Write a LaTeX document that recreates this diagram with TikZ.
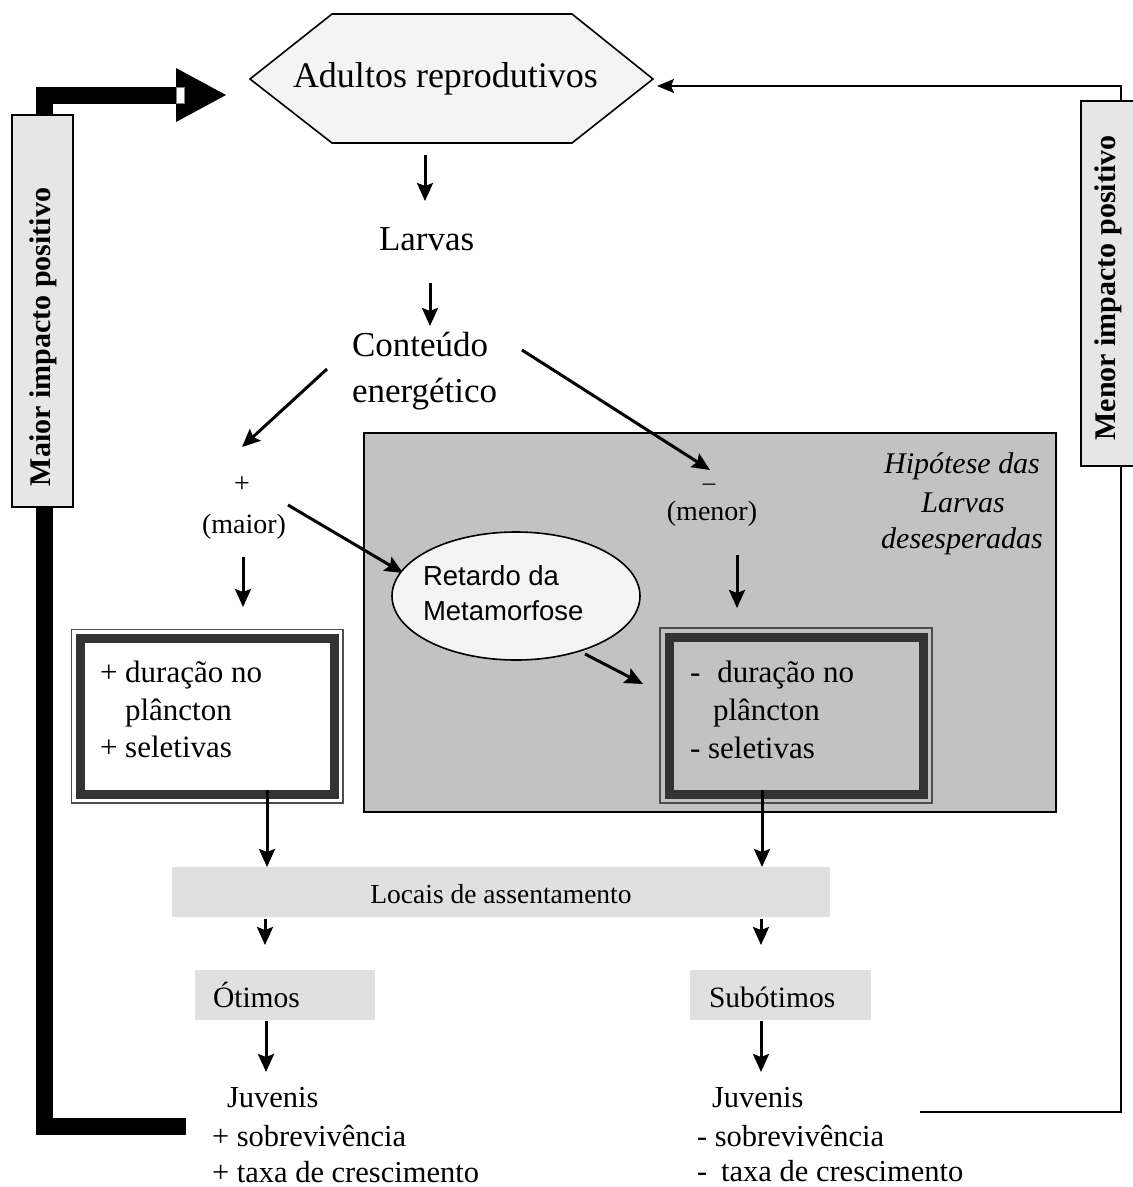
\documentclass[tikz,border=0pt]{standalone}
\usepackage{fontspec}
\setmainfont{Liberation Serif}
\newfontfamily\arialf{Liberation Sans}
\usetikzlibrary{arrows.meta,shapes.geometric}
\definecolor{bgray}{HTML}{C2C2C2}
\definecolor{lgray}{HTML}{E6E6E6}
\definecolor{lgrayb}{HTML}{E0E0E0}
\definecolor{vlgray}{HTML}{F4F4F4}
\definecolor{dband}{HTML}{333333}
\definecolor{oline}{HTML}{4D4D4D}
\begin{document}
\begin{tikzpicture}[x=1pt,y=-1pt,
  every node/.style={inner sep=0pt, outer sep=0pt},
  arr/.style={line width=3pt, -{Stealth[length=18pt,width=16pt,inset=3pt]}},
  lnthin/.style={line width=1.6pt},
  fA/.style={font=\fontsize{36}{44}\selectfont},
  fB/.style={font=\fontsize{35}{42}\selectfont},
  fC/.style={font=\fontsize{31}{36}\selectfont},
  fJ/.style={font=\fontsize{30.5}{36}\selectfont},
  fD/.style={font=\fontsize{28}{34}\selectfont},
  fO/.style={font=\fontsize{29.5}{34}\selectfont},
  fL/.style={font=\fontsize{27.5}{33}\selectfont},
  fI/.style={font=\fontsize{30}{36}\selectfont\itshape},
  fV/.style={font=\fontsize{30}{36}\selectfont\bfseries},
  fS/.style={font=\arialf\fontsize{27.5}{33}\selectfont},
  bw/.style={anchor=base west},
  bc/.style={anchor=base},
  panel/.style={fill=lgrayb, anchor=north west},
]
\useasboundingbox (0,0) rectangle (1133,1187);

% big gray hypothesis area
\node[draw, fill=bgray, line width=1.6pt, minimum width=692, minimum height=379, anchor=north west] (hypbox) at (364,433) {};

% thick black feedback arrow (left)
\coordinate (jL) at (186,1126);
\coordinate (cL1) at (44,1126);
\coordinate (cL2) at (44,95);
\coordinate (hL) at (177,95);
\draw[line width=17pt] (jL) -- (cL1) -- (cL2) -- (hL);
\fill (176,68) -- (226,95) -- (176,122) -- cycle;
\draw[fill=white, draw=gray, line width=0.8pt] (176,87) rectangle (184,103);

% left vertical box
\node[draw, fill=lgray, line width=1.6pt, minimum width=61, minimum height=392] (maiorbox) at (42.5,311) {};
\node[fV, rotate=90] (maiortxt) at (43,337) {Maior impacto positivo};

% right vertical box
\node[draw, fill=lgray, line width=1.6pt, minimum width=53, minimum height=365] (menorbox) at (1107.5,283.5) {};
\node[fV, rotate=90] (menortxt) at (1108,288) {Menor impacto positivo};

% right thin feedback connector
\coordinate (mtop) at (1121,86);
\coordinate (hexR) at (657,86);
\draw[lnthin, -{Stealth[length=17pt,width=14pt,inset=3pt]}] (menorbox.north -| mtop) -- (mtop) -- (hexR);
\coordinate (mbot) at (1121,1112);
\coordinate (jR) at (920,1112);
\draw[lnthin] (menorbox.south -| mbot) -- (mbot) -- (jR);

% hexagon
\draw[fill=vlgray, lnthin] (250,79) -- (332,14) -- (572,14) -- (653,79) -- (572,143) -- (332,143) -- cycle;
\node[fA, bw] (adultos) at (293,87) {Adultos reprodutivos};

% main chain
\coordinate (a1s) at (425,155); \coordinate (a1e) at (425,201);
\draw[arr] (a1s) -- (a1e);
\node[fB, bw] (larvas) at (379,250) {Larvas};
\coordinate (a2s) at (430,283); \coordinate (a2e) at (430,326);
\draw[arr] (a2s) -- (a2e);
\node[fB, bw] (cont1) at (352,356) {Conteúdo};
\node[fB, bw] (cont2) at (352,402) {energético};

\coordinate (d1s) at (327,369); \coordinate (d1e) at (242,447);
\draw[arr] (d1s) -- (d1e);
\coordinate (d2s) at (522,350); \coordinate (d2e) at (710,470);
\draw[arr] (d2s) -- (d2e);

\node[fD] (plus) at (242,485) {+};
\node[fD, bc] (maior) at (244,533) {(maior)};
\node[font=\fontsize{25}{25}\selectfont] (minus) at (709,487) {–};
\node[fD, bc] (menor) at (712,520) {(menor)};

\coordinate (d3s) at (288,505); \coordinate (d3e) at (403,573);
\draw[arr] (d3s) -- (d3e);
\coordinate (v1s) at (243,557); \coordinate (v1e) at (243,607);
\draw[arr] (v1s) -- (v1e);
\coordinate (v2s) at (737,555); \coordinate (v2e) at (737,608);
\draw[arr] (v2s) -- (v2e);

% ellipse
\node[ellipse, draw, fill=vlgray, lnthin, minimum width=248, minimum height=128] (retardo) at (516,596) {};
\node[fS, bw] (ret1) at (423,585) {Retardo da};
\node[fS, bw] (ret2) at (423,620) {Metamorfose};
\coordinate (e1s) at (585,654); \coordinate (e1e) at (643,684);
\draw[arr] (e1s) -- (e1e);

% hypothesis label
\node[fI, bc] (h1) at (962,473) {Hipótese das};
\node[fI, bc] (h2) at (963,512) {Larvas};
\node[fI, bc] (h3) at (962,548) {desesperadas};

% double boxes
\node[draw=oline, fill=white, line width=1.6pt, minimum width=271.5, minimum height=173.5, anchor=north west] (boxL) at (71.5,629.5) {};
\draw[line width=9pt, draw=dband] (80.5,638.5) rectangle (334,794);
\node[draw=oline, fill=bgray, line width=1.6pt, minimum width=272, minimum height=175, anchor=north west] (boxR) at (660,628) {};
\draw[line width=9pt, draw=dband] (669,637) rectangle (923,794);

\node[fC, bw] (l1) at (100,682) {+ duração no};
\node[fC, bw] (l2) at (125,720) {plâncton};
\node[fC, bw] (l3) at (100,757) {+ seletivas};
\node[fC, bw] (r1) at (690,682) {-\hspace{17pt}duração no};
\node[fC, bw] (r2) at (713,720) {plâncton};
\node[fC, bw] (r3) at (690,758) {- seletivas};

\coordinate (b1s) at (267,790); \coordinate (b1e) at (267,867);
\draw[arr] (b1s) -- (b1e);
\coordinate (b2s) at (762,790); \coordinate (b2e) at (762,867);
\draw[arr] (b2s) -- (b2e);

% settlement
\node[panel, minimum width=658, minimum height=50] (locaisbox) at (172,867) {};
\node[fL, bc] (locais) at (501,903) {Locais de assentamento};
\coordinate (c1s) at (265,919); \coordinate (c1e) at (265,945);
\draw[arr] (c1s) -- (c1e);
\coordinate (c2s) at (761,919); \coordinate (c2e) at (761,945);
\draw[arr] (c2s) -- (c2e);

\node[panel, minimum width=180, minimum height=50] (otbox) at (195,970) {};
\node[fO, bw] (otimos) at (213,1007) {Ótimos};
\node[panel, minimum width=181, minimum height=50] (subbox) at (690,970) {};
\node[fO, bw] (subotimos) at (709,1007) {Subótimos};

\coordinate (o1s) at (266,1021); \coordinate (o1e) at (266,1072);
\draw[arr] (o1s) -- (o1e);
\coordinate (o2s) at (761,1021); \coordinate (o2e) at (761,1072);
\draw[arr] (o2s) -- (o2e);

% juveniles
\node[fJ, bw] (jl1) at (227,1107) {Juvenis};
\node[fJ, bw] (jl2) at (212,1146) {+ sobrevivência};
\node[fJ, bw] (jl3) at (212,1182) {+ taxa de crescimento};
\node[fJ, bw] (jr1) at (712,1107) {Juvenis};
\node[fJ, bw] (jr2) at (697,1146) {- sobrevivência};
\node[fJ, bw] (jr3) at (697,1181) {-\hspace{14pt}taxa de crescimento};
\end{tikzpicture}
\end{document}
